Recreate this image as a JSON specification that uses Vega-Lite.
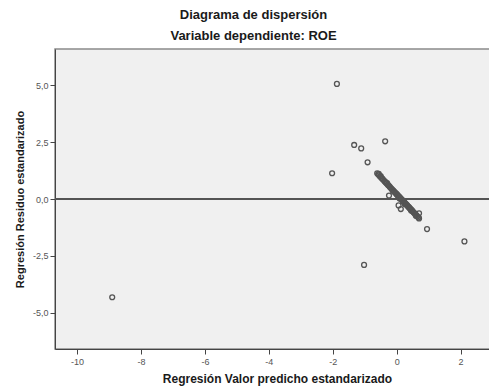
{
  "$schema": "https://vega.github.io/schema/vega-lite/v6.json",
  "width": 435,
  "height": 300,
  "autosize": {"type": "none"},
  "padding": {"left": 55, "top": 49, "right": 0, "bottom": 38},
  "background": "#ffffff",
  "config": {
    "font": "Liberation Sans",
    "view": {"fill": "#f0f0f0", "stroke": "#8a8a8a", "strokeWidth": 1.5},
    "axis": {"grid": false, "domainColor": "#444", "tickColor": "#444", "labelColor": "#555", "labelFontSize": 9, "titleFontSize": 12, "titleFontWeight": "bold", "titleColor": "#1a1a1a", "labelFont": "Liberation Sans", "titleFont": "Liberation Sans"}
  },
  "title": {
    "text": "Diagrama de dispersión",
    "subtitle": "Variable dependiente: ROE",
    "anchor": "middle",
    "fontSize": 13,
    "fontWeight": "bold",
    "subtitleFontSize": 13,
    "subtitleFontWeight": "bold",
    "color": "#1a1a1a",
    "subtitleColor": "#1a1a1a",
    "subtitlePadding": 8,
    "offset": 6,
    "dx": -19,
    "font": "Liberation Sans",
    "subtitleFont": "Liberation Sans"
  },
  "data": {
    "values": [
      {"pred": -1.87, "res": 5.05},
      {"pred": -1.33, "res": 2.37},
      {"pred": -1.11, "res": 2.22},
      {"pred": -0.36, "res": 2.53},
      {"pred": -0.91, "res": 1.61},
      {"pred": -2.02, "res": 1.13},
      {"pred": -1.02, "res": -2.89},
      {"pred": -8.9, "res": -4.31},
      {"pred": 0.95, "res": -1.32},
      {"pred": 2.12, "res": -1.86},
      {"pred": -0.24, "res": 0.15},
      {"pred": 0.06, "res": -0.28},
      {"pred": 0.13, "res": -0.44},
      {"pred": 0.7, "res": -0.63},
      {"pred": -0.56, "res": 1.1},
      {"pred": -0.5, "res": 1.0},
      {"pred": -0.61, "res": 1.13},
      {"pred": -0.58, "res": 1.085},
      {"pred": -0.55, "res": 1.04},
      {"pred": -0.52, "res": 0.99},
      {"pred": -0.48, "res": 0.93},
      {"pred": -0.45, "res": 0.89},
      {"pred": -0.42, "res": 0.84},
      {"pred": -0.38, "res": 0.78},
      {"pred": -0.35, "res": 0.74},
      {"pred": -0.32, "res": 0.69},
      {"pred": -0.28, "res": 0.63},
      {"pred": -0.25, "res": 0.59},
      {"pred": -0.22, "res": 0.54},
      {"pred": -0.19, "res": 0.49},
      {"pred": -0.16, "res": 0.45},
      {"pred": -0.13, "res": 0.4},
      {"pred": -0.1, "res": 0.36},
      {"pred": -0.07, "res": 0.31},
      {"pred": -0.04, "res": 0.27},
      {"pred": -0.02, "res": 0.24},
      {"pred": 0.0, "res": 0.21},
      {"pred": 0.02, "res": 0.18},
      {"pred": 0.04, "res": 0.15},
      {"pred": 0.06, "res": 0.12},
      {"pred": 0.08, "res": 0.09},
      {"pred": 0.1, "res": 0.06},
      {"pred": 0.12, "res": 0.03},
      {"pred": 0.14, "res": 0.0},
      {"pred": 0.16, "res": -0.03},
      {"pred": 0.18, "res": -0.06},
      {"pred": 0.2, "res": -0.09},
      {"pred": 0.22, "res": -0.12},
      {"pred": 0.24, "res": -0.15},
      {"pred": 0.26, "res": -0.18},
      {"pred": 0.28, "res": -0.21},
      {"pred": 0.3, "res": -0.24},
      {"pred": 0.32, "res": -0.27},
      {"pred": 0.34, "res": -0.3},
      {"pred": 0.36, "res": -0.33},
      {"pred": 0.38, "res": -0.36},
      {"pred": 0.4, "res": -0.39},
      {"pred": 0.42, "res": -0.42},
      {"pred": 0.44, "res": -0.45},
      {"pred": 0.46, "res": -0.48},
      {"pred": 0.48, "res": -0.51},
      {"pred": 0.5, "res": -0.54},
      {"pred": 0.53, "res": -0.59},
      {"pred": 0.56, "res": -0.63},
      {"pred": 0.59, "res": -0.68},
      {"pred": 0.62, "res": -0.72},
      {"pred": 0.65, "res": -0.77},
      {"pred": 0.68, "res": -0.81},
      {"pred": 0.7, "res": -0.85},
      {"pred": -0.3, "res": 0.7},
      {"pred": -0.12, "res": 0.36},
      {"pred": 0.09, "res": 0.02},
      {"pred": 0.25, "res": -0.22},
      {"pred": 0.45, "res": -0.5},
      {"pred": 0.6, "res": -0.74}
    ]
  },
  "layer": [
    {
      "mark": {"type": "rule", "color": "#555", "strokeWidth": 1},
      "encoding": {"y": {"datum": 0}}
    },
    {
      "mark": {"type": "point", "shape": "circle", "filled": false, "stroke": "#555", "strokeWidth": 1.3, "size": 24, "opacity": 1},
      "encoding": {
        "x": {
          "field": "pred",
          "type": "quantitative",
          "scale": {"domain": [-10.69, 2.92], "nice": false, "zero": false},
          "axis": {
            "title": "Regresión Valor predicho estandarizado",
            "values": [-10, -8, -6, -4, -2, 0, 2],
            "labelExpr": "replace(format(datum.value, 'd'), '−', '-')",
            "tickSize": 5,
            "labelPadding": 3,
            "titlePadding": 7,
            "titleX": 222
          }
        },
        "y": {
          "field": "res",
          "type": "quantitative",
          "scale": {"domain": [-6.58, 6.58], "nice": false, "zero": false},
          "axis": {
            "title": "Regresión Residuo estandarizado",
            "titleFontSize": 11,
            "values": [-5, -2.5, 0, 2.5, 5],
            "labelExpr": "replace(replace(format(datum.value, '.1f'), '.', ','), '−', '-')",
            "tickSize": 5,
            "labelPadding": 2,
            "titlePadding": 7
          }
        }
      }
    }
  ]
}
